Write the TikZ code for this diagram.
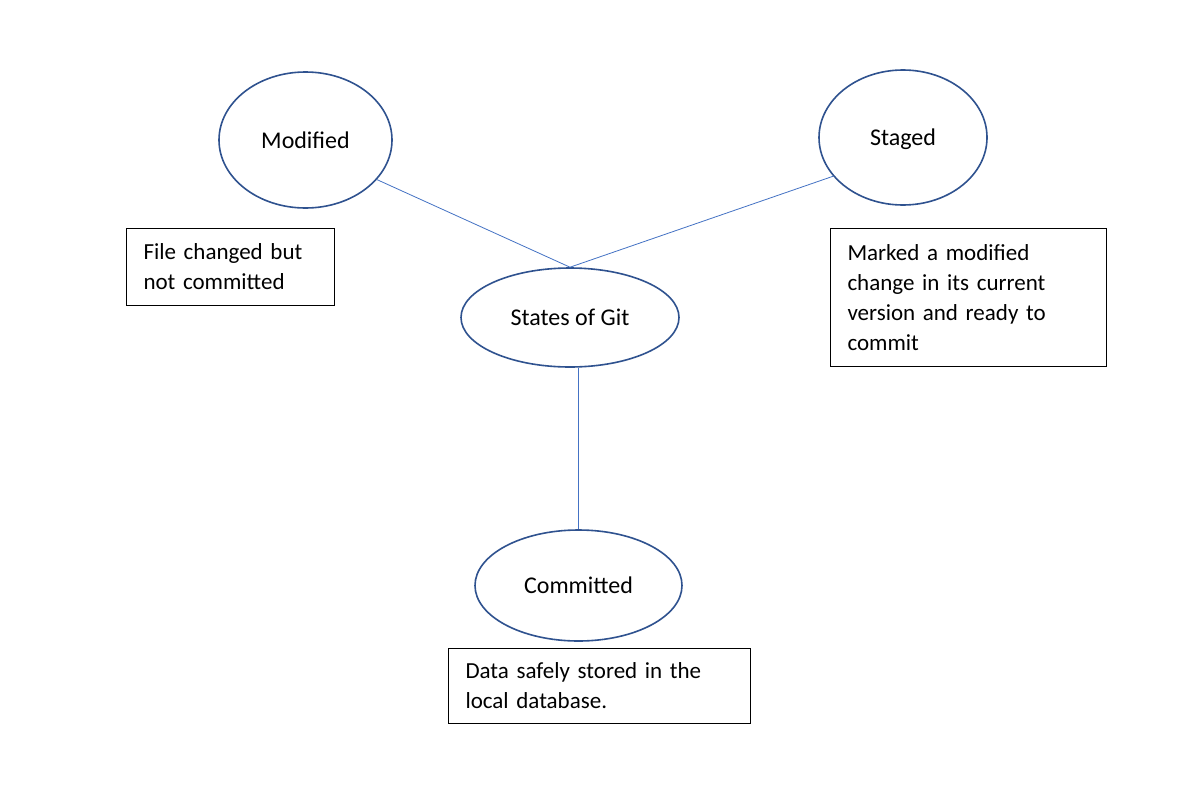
\documentclass[tikz,border=0pt]{standalone}
\usepackage{fontspec}
\setmainfont{Carlito}
\usetikzlibrary{shapes.geometric}
\definecolor{ringblue}{HTML}{2F528F}
\definecolor{lineblue}{HTML}{4472C4}
\begin{document}
\begin{tikzpicture}[x=1pt,y=-1pt,
  state/.style={draw=ringblue,line width=1.6pt,ellipse,inner sep=0pt,text depth=0pt,font=\fontsize{24}{28}\selectfont},
  note/.style={draw=black,line width=1pt,anchor=north west,align=left,inner xsep=17pt,inner ysep=0pt,font=\fontsize{23}{30}\selectfont},
  link/.style={draw=lineblue,line width=0.8pt}]
\useasboundingbox[fill=white] (0,0) rectangle (1180,790);
\node[state,minimum width=173pt,minimum height=136pt] (mod) at (305.5,140) {Modified};
\node[state,minimum width=168pt,minimum height=135pt] (stg) at (903,137.5) {Staged};
\node[state,minimum width=218pt,minimum height=99pt] (sog) at (570,317.5) {States of Git};
\node[state,minimum width=207pt,minimum height=111pt] (com) at (578.5,585.5) {Committed};
\node[note,minimum width=208pt,minimum height=77pt,text width=174pt] (n1) at (126,228) {File changed but\\not committed};
\node[note,minimum width=276pt,minimum height=138pt,text width=242pt] (n2) at (830,228) {Marked a modified\\change in its current\\version and ready to\\commit};
\node[note,minimum width=302pt,minimum height=75pt,text width=268pt] (n3) at (448,648) {Data safely stored in the\\local database.};
\draw[link] (mod.-29) -- (sog.north);
\draw[link] (stg.-151) -- (sog.north);
\draw[link] (com.north |- sog.south) -- (com.north);
\end{tikzpicture}
\end{document}
